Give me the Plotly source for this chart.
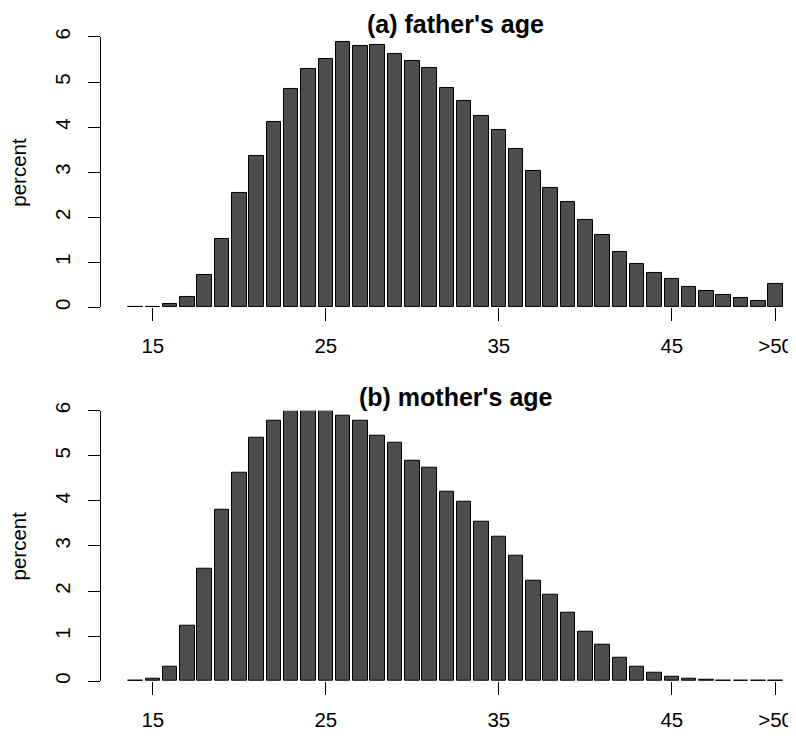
import plotly.graph_objects as go

ages = list(range(14, 52))  # 51 stands for the ">50" class
tick_vals = [15, 25, 35, 45, 51]
tick_text = ["15", "25", "35", "45", ">50"]
y_ticks = [0, 1, 2, 3, 4, 5, 6]

father_pct = [0.003, 0.02, 0.07, 0.23, 0.71, 1.53, 2.53, 3.36, 4.12, 4.85,
              5.29, 5.51, 5.89, 5.81, 5.83, 5.63, 5.46, 5.31, 4.87, 4.58,
              4.25, 3.94, 3.52, 3.02, 2.64, 2.33, 1.93, 1.60, 1.24, 0.96,
              0.76, 0.63, 0.46, 0.36, 0.27, 0.22, 0.15, 0.51]
mother_pct = [0.003, 0.06, 0.33, 1.24, 2.49, 3.80, 4.63, 5.40, 5.77, 6.02,
              6.00, 6.01, 5.89, 5.78, 5.45, 5.29, 4.89, 4.73, 4.20, 3.99,
              3.54, 3.20, 2.79, 2.24, 1.91, 1.51, 1.09, 0.80, 0.53, 0.32,
              0.18, 0.10, 0.06, 0.03, 0.015, 0.01, 0.005, 0.003]

titles = ["(a) father's age", "(b) mother's age"]

# the page body has an 8px margin: build the figure 8px smaller and shift targets
OFF = 8
W, H = 796 - OFF, 738 - OFF
FONT = "Liberation Sans, Arial, Helvetica, sans-serif"
BAR_FILL = "#4d4d4d"

fig = go.Figure()
for i, vals in enumerate([father_pct, mother_pct]):
    sfx = "" if i == 0 else str(i + 1)
    fig.add_trace(go.Bar(
        x=ages, y=vals, width=0.833,
        marker=dict(color=BAR_FILL, line=dict(color="black", width=1)),
        xaxis="x" + sfx, yaxis="y" + sfx, cliponaxis=False,
        showlegend=False, hoverinfo="x+y",
    ))

# pixel geometry (page pixels of the reference, minus the body offset)
left_px = 101 - OFF
first_center = 135.5 - OFF
px_per_year = 17.3
x0 = 14 + (left_px - first_center) / px_per_year
x1 = 14 + (W - first_center) / px_per_year
panels = [(28.3 - OFF, 303.3 - OFF), (408.3 - OFF, 683.3 - OFF)]

layout = dict(
    width=W, height=H, autosize=False,
    margin=dict(l=0, r=0, t=0, b=0),
    paper_bgcolor="white", plot_bgcolor="white",
    font=dict(family=FONT, size=20.5, color="black"),
    bargap=0,
)
annotations = []
for i, (top, bot) in enumerate(panels):
    sfx = "" if i == 0 else str(i + 1)
    layout["xaxis" + sfx] = dict(
        domain=[left_px / W, 1], range=[x0, x1], anchor="y" + sfx,
        tickvals=tick_vals, ticktext=tick_text,
        ticks="outside", ticklen=13, tickwidth=1, tickcolor="black",
        showline=False, showgrid=False, zeroline=False,
        tickfont=dict(size=20.5), ticklabelstandoff=7,
    )
    layout["yaxis" + sfx] = dict(
        domain=[1 - bot / H, 1 - top / H], range=[0, 6], anchor="x" + sfx,
        tickvals=y_ticks, ticks="outside", ticklen=12, tickwidth=1,
        tickcolor="black", showline=True, linecolor="black", linewidth=1,
        showgrid=False, zeroline=False, tickangle=-90,
        tickfont=dict(size=20.5), ticklabelstandoff=10,
    )
    annotations.append(dict(
        text="<b>" + titles[i] + "</b>", xref="paper", yref="paper",
        x=(455.5 - OFF) / W, y=1 - (top - 13.5) / H, xanchor="center", yanchor="middle",
        showarrow=False, font=dict(size=25, family=FONT),
    ))
    annotations.append(dict(
        text="percent", xref="paper", yref="paper",
        x=(18.5 - OFF) / W, y=1 - ((top + bot) / 2) / H, xanchor="center", yanchor="middle",
        textangle=-90, showarrow=False, font=dict(size=20.5, family=FONT),
    ))
layout["annotations"] = annotations
fig.update_layout(**layout)

fig.write_html("out.html")
